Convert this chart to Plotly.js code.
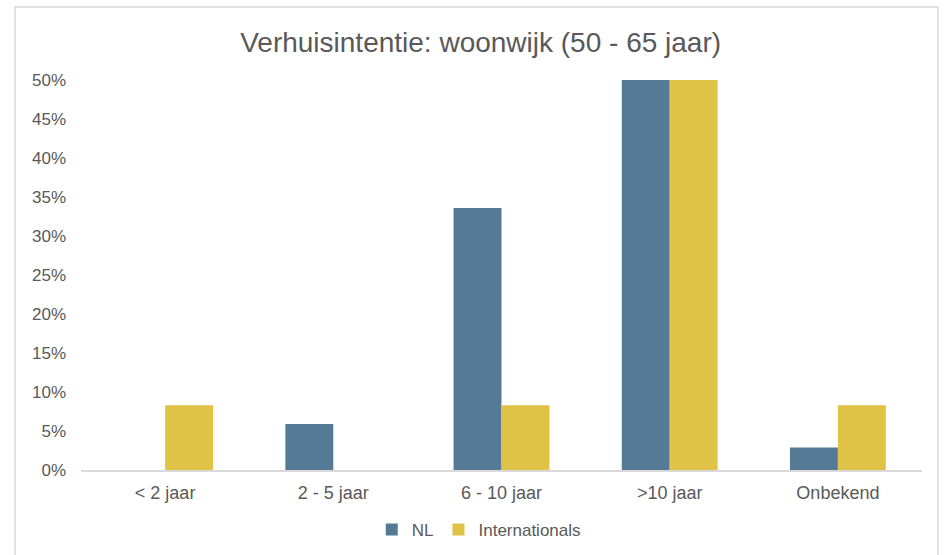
<!DOCTYPE html>
<html>
<head>
<meta charset="utf-8">
<script src="https://cdn.plot.ly/plotly-3.0.1.min.js"></script>
<style>
html,body{margin:0;padding:0;background:#fff;}
#chart{width:948px;height:555px;}
</style>
</head>
<body>
<div id="chart"></div>
<script>
const categories = ["< 2 jaar", "2 - 5 jaar", "6 - 10 jaar", ">10 jaar", "Onbekend"];
const nlValues = [0, 5.9, 33.6, 50, 2.9];
const internationalsValues = [8.3, 0, 8.3, 50, 8.3];
const tickValues = [0, 5, 10, 15, 20, 25, 30, 35, 40, 45, 50];
const tickLabels = ["0%", "5%", "10%", "15%", "20%", "25%", "30%", "35%", "40%", "45%", "50%"];

const textColor = "#595959";
const fontFamily = "Liberation Sans, Arial, sans-serif";

const traces = [
  {type: "bar", name: "NL", x: categories, y: nlValues,
   marker: {color: "#557A95"}, hoverinfo: "skip"},
  {type: "bar", name: "Internationals", x: categories, y: internationalsValues,
   marker: {color: "#E0C346"}, hoverinfo: "skip"}
];

const layout = {
  width: 948, height: 555,
  margin: {l: 81, r: 26, t: 80, b: 85},
  paper_bgcolor: "#fff", plot_bgcolor: "#fff",
  font: {family: fontFamily, color: textColor, size: 17},
  title: {text: "Verhuisintentie: woonwijk (50 - 65 jaar)",
          font: {size: 28, color: textColor, family: fontFamily},
          x: 0.507, xanchor: "center", y: 0.924, yanchor: "middle"},
  barmode: "group",
  bargap: 0.43, bargroupgap: 0,
  xaxis: {showgrid: false, showline: true, linecolor: "#d9d9d9", linewidth: 1.5,
          ticks: "", tickfont: {size: 18, color: textColor}, ticklabelstandoff: 6,
          automargin: false, fixedrange: true},
  yaxis: {range: [0, 50], tickvals: tickValues, ticktext: tickLabels,
          showgrid: false, zeroline: false, showline: false, ticks: "",
          tickfont: {size: 17, color: textColor}, ticklabelstandoff: 14,
          automargin: false, fixedrange: true},
  showlegend: true,
  legend: {orientation: "h", xref: "container", yref: "container",
           x: 0.505, xanchor: "center", y: 0.045, yanchor: "middle",
           font: {size: 17, color: textColor}, itemwidth: 30, traceorder: "normal"},
  shapes: [{type: "rect", xref: "paper", yref: "paper",
            x0: -0.0785, x1: 1.0190, y0: -0.35, y1: 1.187,
            line: {color: "#d9d9d9", width: 1.5}, fillcolor: "rgba(0,0,0,0)", layer: "below"}]
};

Plotly.newPlot("chart", traces, layout, {displayModeBar: false, staticPlot: true});
</script>
</body>
</html>
